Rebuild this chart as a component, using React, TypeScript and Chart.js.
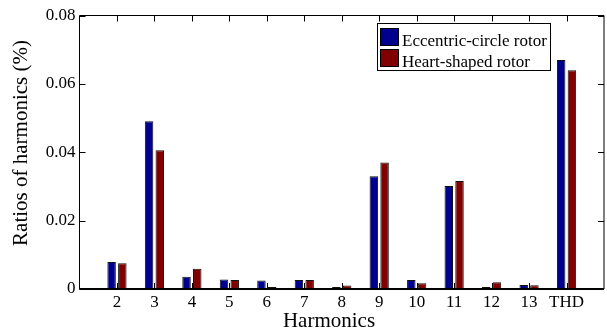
import React, { useEffect, useRef } from 'react';
import { Chart, registerables } from 'chart.js';

Chart.register(...registerables);

const categories = ['2', '3', '4', '5', '6', '7', '8', '9', '10', '11', '12', '13', 'THD'];
const eccentric = [0.0079, 0.0491, 0.0036, 0.0028, 0.0025, 0.0026, 0.0006, 0.033, 0.0026, 0.0301, 0.0006, 0.0012, 0.067];
const heart = [0.0075, 0.0406, 0.0059, 0.0026, 0.0006, 0.0026, 0.001, 0.037, 0.0017, 0.0316, 0.002, 0.0011, 0.064];
const yTicks = [0, 0.02, 0.04, 0.06, 0.08];
const seriesNames = ['Eccentric-circle rotor', 'Heart-shaped rotor'];
const seriesColors = ['#00008f', '#800000'];
const xTitle = 'Harmonics';
const yTitle = 'Ratios of harmonics (%)';

const FONT = '"Liberation Serif", "Times New Roman", serif';

const framePlugin = {
  id: 'frame',
  afterDraw(chart: any) {
    const { ctx, chartArea } = chart;
    const { left, right, top, bottom } = chartArea;
    const xs = chart.scales.x;
    const ys = chart.scales.y;
    ctx.save();
    ctx.strokeStyle = '#000';
    ctx.lineWidth = 1;
    ctx.beginPath();
    ctx.moveTo(left, bottom);
    ctx.lineTo(left, top);
    ctx.lineTo(right, top);
    ctx.lineTo(right, bottom);
    ctx.stroke();
    ctx.lineWidth = 2;
    ctx.beginPath();
    ctx.moveTo(left, bottom);
    ctx.lineTo(right, bottom);
    ctx.stroke();
    ctx.lineWidth = 1;
    ctx.beginPath();
    const tl = 6;
    yTicks.forEach((v) => {
      const y = Math.round(ys.getPixelForValue(v)) + 0.5;
      ctx.moveTo(left, y);
      ctx.lineTo(left + tl, y);
      ctx.moveTo(right, y);
      ctx.lineTo(right - tl, y);
    });
    categories.forEach((_, i) => {
      const x = Math.round(xs.getPixelForValue(i + 1)) + 0.5;
      ctx.moveTo(x, top);
      ctx.lineTo(x, top + tl);
      ctx.moveTo(x, bottom);
      ctx.lineTo(x, bottom - tl);
    });
    ctx.stroke();

    // axis titles
    ctx.fillStyle = '#000';
    ctx.font = `21px ${FONT}`;
    ctx.textAlign = 'center';
    ctx.textBaseline = 'alphabetic';
    ctx.fillText(xTitle, 329, 327);
    ctx.save();
    ctx.translate(26.5, 143);
    ctx.rotate(-Math.PI / 2);
    ctx.fillText(yTitle, 0, 0);
    ctx.restore();

    // legend
    const bx = 377.5, by = 23.5, bw = 173, bh = 47;
    ctx.fillStyle = '#fff';
    ctx.fillRect(bx, by, bw, bh);
    ctx.strokeStyle = '#000';
    ctx.strokeRect(bx, by, bw, bh);
    ctx.font = `17px ${FONT}`;
    ctx.textAlign = 'left';
    seriesNames.forEach((name, i) => {
      const sy = 28.5 + i * 21;
      ctx.fillStyle = seriesColors[i];
      ctx.fillRect(380.5, sy, 18, 17);
      ctx.strokeStyle = '#000';
      ctx.strokeRect(380.5, sy, 18, 17);
      ctx.fillStyle = '#000';
      ctx.fillText(name, 402, 45.5 + i * 21);
    });
    ctx.restore();
  },
};

export default function App() {
  const ref = useRef<HTMLCanvasElement>(null);
  useEffect(() => {
    document.body.style.margin = '0';
    const labels = ['', ...categories, ''];
    const pad = (arr: number[]) => [null, ...arr, null];
    const chart = new Chart(ref.current!, {
      type: 'bar',
      data: {
        labels,
        datasets: [
          {
            label: seriesNames[0],
            data: pad(eccentric) as any,
            backgroundColor: seriesColors[0],
            borderColor: '#111',
            borderWidth: 1,
            categoryPercentage: 0.573,
            barPercentage: 0.79,
          },
          {
            label: seriesNames[1],
            data: pad(heart) as any,
            backgroundColor: seriesColors[1],
            borderColor: '#111',
            borderWidth: 1,
            categoryPercentage: 0.573,
            barPercentage: 0.79,
          },
        ],
      },
      options: {
        animation: false,
        responsive: false,
        maintainAspectRatio: false,
        layout: { padding: { top: 15.5, right: 0.5, left: 0, bottom: 0 } },
        plugins: {
          legend: { display: false },
          tooltip: { enabled: false },
        },
        scales: {
          x: {
            offset: false,
            grid: { display: false, drawTicks: false },
            border: { display: false },
            ticks: {
              color: '#000',
              font: { family: FONT, size: 17 },
              padding: 3,
              autoSkip: false,
              maxRotation: 0,
            },
            afterFit(scale: any) {
              scale.height = 40;
            },
          },
          y: {
            min: 0,
            max: 0.08,
            grid: { display: false, drawTicks: false },
            border: { display: false },
            ticks: {
              color: '#000',
              font: { family: FONT, size: 17 },
              padding: 4,
              stepSize: 0.02,
              callback: (v: any) => {
                const n = Number(v);
                return n === 0 ? '0' : n.toFixed(2);
              },
            },
            afterFit(scale: any) {
              scale.width = 79.5;
            },
          },
        },
      },
      plugins: [framePlugin],
    });
    return () => chart.destroy();
  }, []);
  return (
    <div style={{ position: 'absolute', left: 0, top: 0, width: 607, height: 329 }}>
      <canvas ref={ref} width={607} height={329} style={{ display: 'block', width: 607, height: 329 }} />
    </div>
  );
}
